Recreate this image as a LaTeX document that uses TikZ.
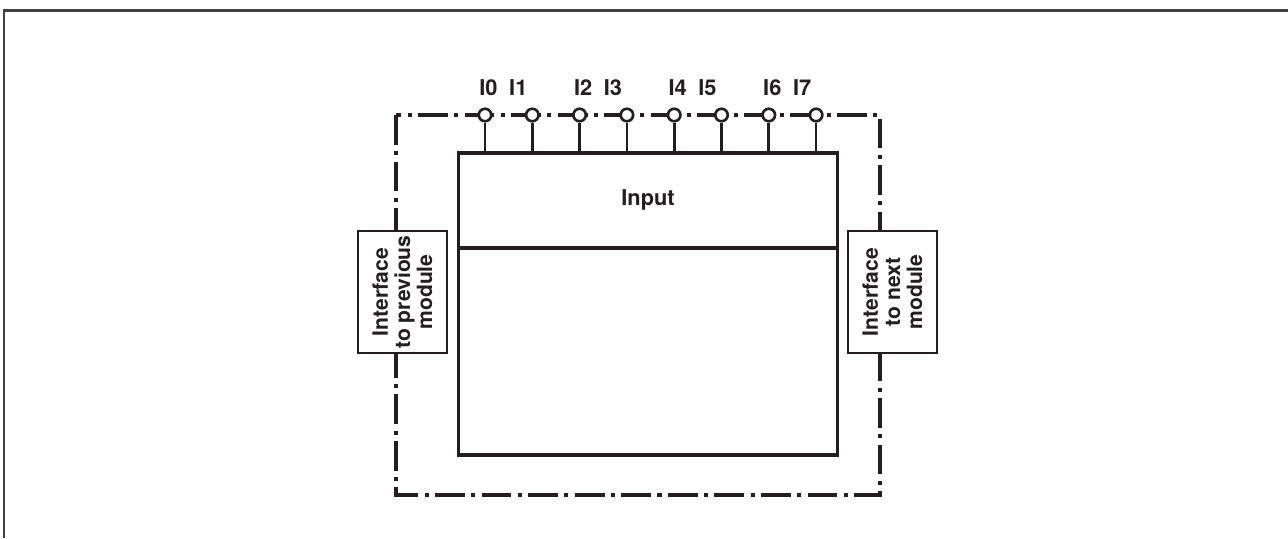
\documentclass[tikz,border=0pt]{standalone}
\usepackage{fontspec}
\setmainfont{TeX Gyre Heros}
\usetikzlibrary{positioning}
\definecolor{ink}{HTML}{231F20}

\tikzset{
  modbox/.style={draw=ink, line width=1.9pt, inner sep=0pt},
  ifbox/.style={draw=ink, fill=white, line width=1.5pt, rotate=90, align=center,
    minimum width=2.44cm, minimum height=1.78cm, inner sep=0pt,
    font=\bfseries\fontsize{12}{12.6}\selectfont},
  pinring/.style={circle, draw=ink, fill=white, line width=1.5pt, minimum size=0.25cm, inner sep=0pt},
  pinlabel/.style={anchor=base, inner sep=0pt, font=\bfseries\fontsize{12.4}{14}\selectfont},
  border/.style={draw=ink, line width=1.9pt,
    dash pattern=on 17pt off 3.6pt on 2.3pt off 3.6pt},
}

\begin{document}
\begin{tikzpicture}[x=0.02cm, y=-0.02cm, line width=1.5pt, ink]
    \useasboundingbox (0,0) rectangle (1288,538);
    \draw[ink!85, line width=1.2pt] (4,538) -- (4,10.5) -- (1288,10.5);

    % module outline
    \coordinate (bnw) at (396,115);
    \coordinate (bse) at (880,495);
    \draw[border] (bnw) rectangle (bse);

    % main block
    \node[modbox, minimum width=7.58cm, minimum height=6.04cm] (main) at (648,304) {};
    \node[modbox, minimum width=7.58cm, minimum height=1.9cm, below=0pt of main.north] (input) {};
    \node[pinlabel] (inputtext) at ([yshift=-0.09cm]input.center) {Input};

    % interfaces
    \node[ifbox] (prev) at (402.5,292) {Interface\\to previous\\module};
    \node[ifbox] (next) at (892.5,292) {Interface\\to next\\module};

    % inputs
    \foreach \i/\dx in {0/3.5,1/-14,2/3.5,3/-14,4/3.5,5/-14,6/3.5,7/-14} {
      \pgfmathsetmacro\px{485+47.3*\i}
      \node[pinring] (p\i) at (\px,115) {};
      \draw (p\i) -- (p\i |- main.north);
      \node[pinlabel] (l\i) at (\px+\dx,95.5) {I\i};
    }
\end{tikzpicture}
\end{document}
